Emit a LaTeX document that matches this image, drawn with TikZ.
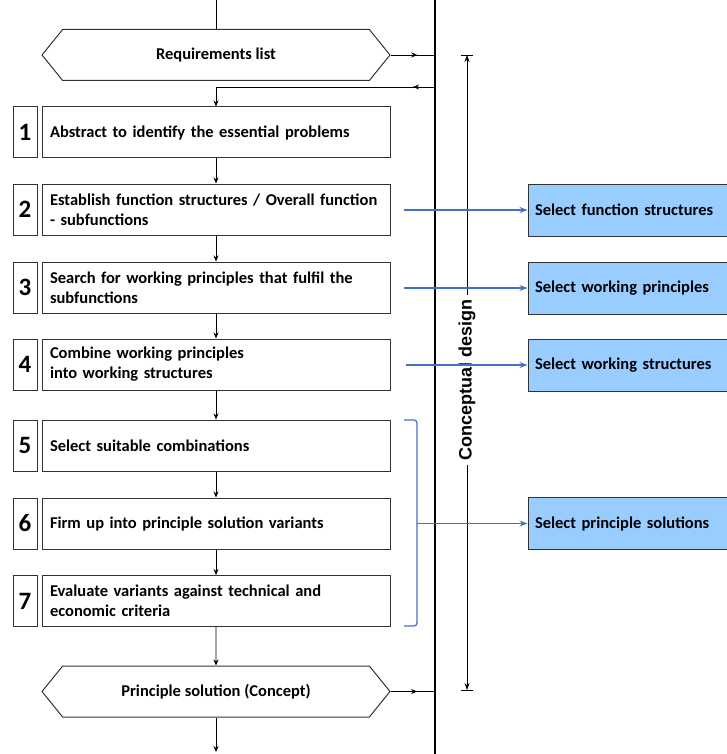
\documentclass[tikz,border=0pt]{standalone}
\usepackage{fontspec}
\setmainfont{Carlito}
\newfontfamily\arialfont{Liberation Sans}
\usetikzlibrary{arrows.meta,calc,positioning,shapes.symbols,decorations.markings}
\definecolor{selblue}{RGB}{153,204,255}
\definecolor{linkblue}{RGB}{68,114,196}
\tikzset{
    stepbox/.style={draw=black!80,line width=1pt,minimum width=348,minimum height=51,text width=332,align=left,inner sep=0pt,font=\bfseries\fontsize{16.5}{20}\selectfont},
    numbox/.style={draw=black!80,line width=1pt,minimum width=24,minimum height=51,inner sep=0pt,font=\bfseries\fontsize{25}{25}\selectfont},
    hexbox/.style={signal,signal to=east and west,signal pointer angle=102,draw=black!80,line width=1pt,minimum width=348,minimum height=51,inner sep=0pt,font=\bfseries\fontsize{16.5}{20}\selectfont},
    selbox/.style={draw=black!80,fill=selblue,line width=1pt,minimum width=199,minimum height=52,text width=185,align=left,inner sep=0pt,font=\bfseries\fontsize{16.5}{20}\selectfont},
    flow/.style={-{Stealth[length=6pt,width=5pt]},line width=0.8pt},
    midarrow/.style={line width=0.8pt,decoration={markings,mark=at position #1 with {\arrow{Stealth[length=6pt,width=5pt]}}},postaction={decorate}},
    link/.style={-{Stealth[length=8pt,width=6pt]},linkblue,line width=1.3pt}
}
\begin{document}
\begin{tikzpicture}[x=1pt,y=-1pt]
  \useasboundingbox (0,0) rectangle (726,754);
  % main bar and dimension
  \coordinate (barTop) at (435,0);
  \coordinate (barBot) at (435,754);
  \draw[line width=2.2pt] (barTop) -- (barBot);
  % flow
  \node[hexbox] (req) at (216,55) {Requirements list};
  \node[stepbox] (s1) at (216,132.5) {Abstract to identify the essential problems};
  \node[stepbox] (s2) at (216,209.5) {Establish function structures / Overall function\\- subfunctions};
  \node[stepbox] (s3) at (216,287.5) {Search for working principles that fulfil the\\subfunctions};
  \node[stepbox] (s4) at (216,364.5) {Combine working principles\\into working structures};
  \node[stepbox] (s5) at (216,445.5) {Select suitable combinations};
  \node[stepbox] (s6) at (216,523.5) {Firm up into principle solution variants};
  \node[stepbox] (s7) at (216,601) {Evaluate variants against technical and\\economic criteria};
  \node[hexbox] (sol) at (216,691.5) {Principle solution (Concept)};
  \foreach \i/\y in {1/132.5,2/209.5,3/287.5,4/364.5,5/445.5,6/523.5,7/601}
    \node[numbox] (n\i) at (25,\y) {\i};
  \coordinate (top) at (216,0);
  \coordinate (bot) at (216,752);
  \coordinate (jr) at (216,87);
  \coordinate (barIn) at (435,87);
  \coordinate (barReq) at (435,55);
  \coordinate (barSol) at (435,691.5);
  \draw[line width=0.8pt] (top) -- (req.north);
  \draw[midarrow=0.6] (req.east) -- (barReq);
  \draw[midarrow=0.1] (barIn) -- (jr);
  \draw[flow] (jr) -- (s1.north);
  \draw[flow] (s1) -- (s2);
  \draw[flow] (s2) -- (s3);
  \draw[flow] (s3) -- (s4);
  \draw[flow] (s4) -- (s5);
  \draw[flow] (s5) -- (s6);
  \draw[flow] (s6) -- (s7);
  \draw[flow] (s7) -- (sol);
  \draw[midarrow=0.6] (sol.east) -- (barSol);
  \draw[flow] (sol.south) -- (bot);
  % dimension line
  \coordinate (dimTop) at (467,55);
  \coordinate (dimBot) at (467,690);
  \node[rotate=90,fill=white,inner sep=4pt,font=\arialfont\bfseries\fontsize{18}{18}\selectfont] (cd) at (467,380) {Conceptual design};
  \draw[line width=0.8pt] (cd.east) edge[-{Stealth[length=7pt,width=5pt]}] (dimTop) (cd.west) edge[-{Stealth[length=7pt,width=5pt]}] (dimBot);
  \draw[line width=0.8pt] ($(dimTop)+(-6,0)$) -- ($(dimTop)+(6,0)$);
  \draw[line width=0.8pt] ($(dimBot)+(-6,0)$) -- ($(dimBot)+(6,0)$);
  % selection boxes
  \node[selbox] (sel1) at (627.5,210) {Select function structures};
  \node[selbox] (sel2) at (627.5,288) {Select working principles};
  \node[selbox] (sel3) at (627.5,365) {Select working structures};
  \node[selbox] (sel4) at (627.5,523.5) {Select principle solutions};
  \coordinate (l2) at (404,210);
  \coordinate (l3) at (404,288);
  \coordinate (l4) at (406,365);
  \coordinate (brMid) at (417,523.5);
  \draw[link] (l2) -- (sel1.west);
  \draw[link] (l3) -- (sel2.west);
  \draw[link] (l4) -- (sel3.west);
  \draw[linkblue,line width=1.3pt,rounded corners=3pt] (404,420) -- (417,420) -- (417,626) -- (404,626);
  \draw[link] (brMid) -- (sel4.west);
\end{tikzpicture}
\end{document}
